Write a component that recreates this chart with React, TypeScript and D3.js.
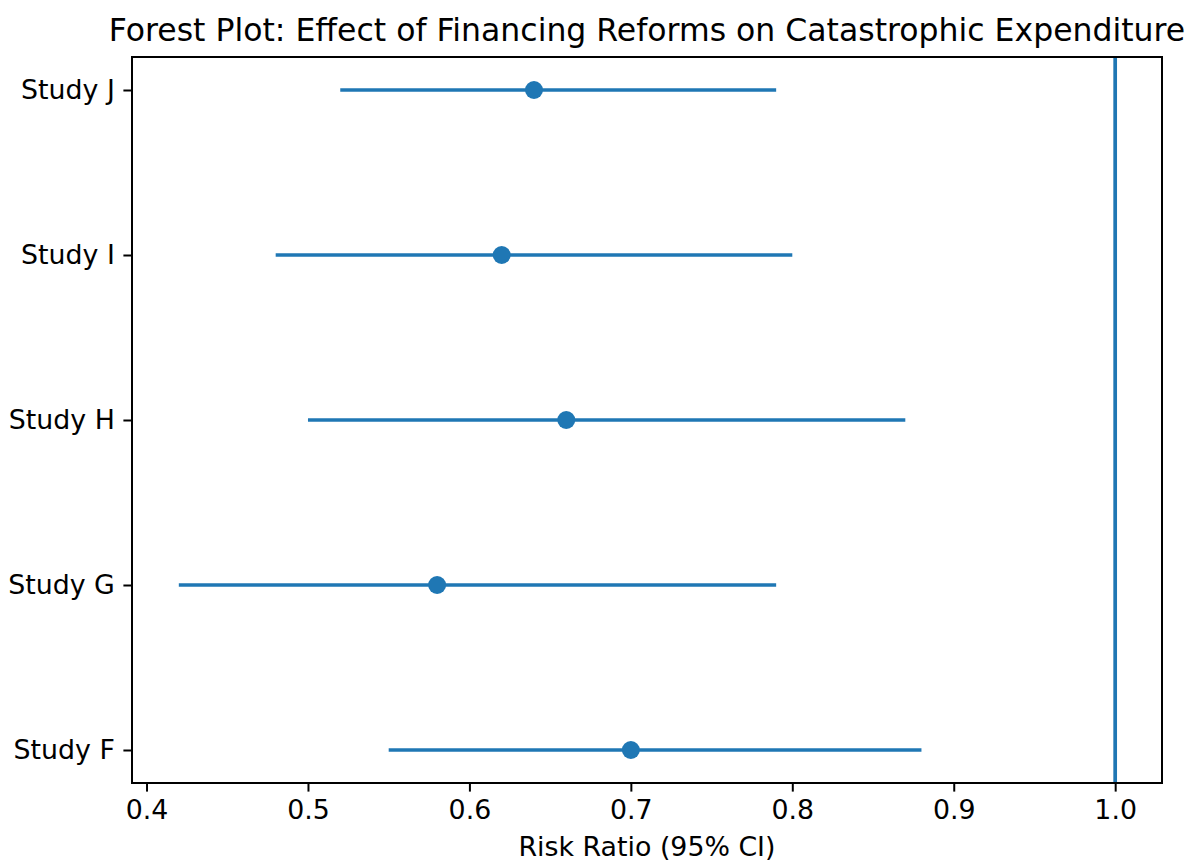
import React, { useEffect, useRef } from 'react';
import * as d3 from 'd3';

// study rows, bottom to top
const studies = ['Study F', 'Study G', 'Study H', 'Study I', 'Study J'];
const riskRatio = [0.70, 0.58, 0.66, 0.62, 0.64];
const ciLow = [0.55, 0.42, 0.50, 0.48, 0.52];
const ciHigh = [0.88, 0.79, 0.87, 0.80, 0.79];
const xTicks = [0.4, 0.5, 0.6, 0.7, 0.8, 0.9, 1.0];

const W = 1185, H = 862;
const margin = { top: 57, right: 23, bottom: 79, left: 132 };
const blue = '#1f77b4';
const font = 'DejaVu Sans, sans-serif';
const tickSize = 26.8;

export default function App() {
  const ref = useRef<SVGSVGElement>(null);

  useEffect(() => {
    const svg = d3.select(ref.current);
    svg.selectAll('*').remove();
    const w = W - margin.left - margin.right;
    const h = H - margin.top - margin.bottom;

    const lo = Math.min(...ciLow, 1.0), hi = Math.max(...ciHigh, 1.0);
    const pad = (hi - lo) * 0.05;
    const x = d3.scaleLinear().domain([lo - pad, hi + pad]).range([0, w]);
    const y = d3.scaleLinear().domain([-0.2, studies.length - 1 + 0.2]).range([h, 0]);

    const g = svg.append('g').attr('transform', `translate(${margin.left},${margin.top})`);

    // error bars
    g.selectAll('.ci').data(studies).join('line').attr('class', 'ci')
      .attr('x1', (d, i) => x(ciLow[i])).attr('x2', (d, i) => x(ciHigh[i]))
      .attr('y1', (d, i) => y(i)).attr('y2', (d, i) => y(i))
      .attr('stroke', blue).attr('stroke-width', 3.7);

    g.selectAll('.pt').data(studies).join('circle').attr('class', 'pt')
      .attr('cx', (d, i) => x(riskRatio[i])).attr('cy', (d, i) => y(i))
      .attr('r', 9).attr('fill', blue);

    // reference line at 1
    g.append('line').attr('x1', x(1)).attr('x2', x(1)).attr('y1', 0).attr('y2', h)
      .attr('stroke', blue).attr('stroke-width', 3.7);

    // x axis
    const xa = g.append('g').attr('transform', `translate(0,${h})`)
      .call(d3.axisBottom(x).tickValues(xTicks).tickFormat(d3.format('.1f')).tickSize(8.6).tickPadding(8));
    xa.select('.domain').remove();
    xa.selectAll('line').attr('stroke', '#000').attr('stroke-width', 2);
    xa.selectAll('text').attr('font-family', font).attr('font-size', tickSize).attr('fill', '#000');

    // y axis
    const ya = g.append('g')
      .call(d3.axisLeft(y).tickValues(d3.range(studies.length)).tickFormat((d: any) => studies[d]).tickSize(8.6).tickPadding(8.6));
    ya.select('.domain').remove();
    ya.selectAll('line').attr('stroke', '#000').attr('stroke-width', 2);
    ya.selectAll('text').attr('font-family', font).attr('font-size', tickSize).attr('fill', '#000');

    // frame
    g.append('rect').attr('width', w).attr('height', h)
      .attr('fill', 'none').attr('stroke', '#000').attr('stroke-width', 2);

    svg.append('text').attr('x', margin.left + w / 2).attr('y', 41)
      .attr('text-anchor', 'middle').attr('font-family', font).attr('font-size', 31.5)
      .text('Forest Plot: Effect of Financing Reforms on Catastrophic Expenditure');

    svg.append('text').attr('x', margin.left + w / 2).attr('y', 856)
      .attr('text-anchor', 'middle').attr('font-family', font).attr('font-size', tickSize)
      .text('Risk Ratio (95% CI)');
  }, []);

  return (
    <svg ref={ref} width={W} height={H}
      style={{ position: 'absolute', left: 0, top: 0, background: '#fff' }} />
  );
}
